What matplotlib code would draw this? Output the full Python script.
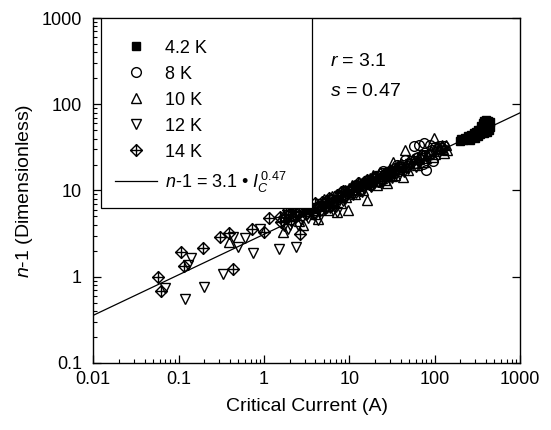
import matplotlib
matplotlib.use("Agg")
import matplotlib.pyplot as plt
import numpy as np
from matplotlib.path import Path
from matplotlib.lines import Line2D
from matplotlib.patches import Rectangle

plt.rcParams['font.family'] = ['Liberation Sans', 'DejaVu Sans']
plt.rcParams['mathtext.fontset'] = 'custom'
plt.rcParams['mathtext.rm'] = 'Liberation Sans'
plt.rcParams['mathtext.it'] = 'Liberation Sans:italic'

# ---------------- data ----------------
I_42 = [195, 205, 215, 225, 235, 245, 255, 265, 275, 285, 295, 305, 315, 325, 335, 345,
        350, 360, 365, 375, 380, 390, 395, 400, 410, 415, 420, 425, 430, 440, 410, 430,
        300, 320, 340, 260, 380, 440]
n_42 = [38, 39.5, 38.5, 41, 40, 42.5, 41, 44, 43, 46, 44, 48, 46, 50, 47, 52,
        56, 49, 60, 54, 64, 58, 51, 66, 62, 55, 60, 64, 57, 62, 48, 50,
        41, 43, 45, 39, 47, 54]

I_8 = [57, 65, 75, 88, 100, 80, 110, 95, 70, 60, 50, 40, 33, 27, 22, 18, 14, 11, 8.5,
       6.5, 5.0, 4.0, 120, 130, 72, 45, 36, 25,
       12, 16, 20, 24, 30, 34, 38, 43, 47, 53, 58, 63, 68, 77, 85, 92, 105, 115]
n_8 = [33, 34, 36, 34, 32, 17.3, 28.5, 22, 26, 23.5, 20.5, 18.5, 16.0, 14.9, 12.4, 13.0,
       11.2, 10.0, 9.0, 7.4, 7.0, 6.2, 31, 33, 20.2, 22.8, 20.0, 17.0,
       11.5, 11.8, 14.0, 15.8, 16.8, 18.2, 17.0, 20.0, 19.2, 22.0, 21.0, 24.5, 23.0, 25.8,
       26.0, 29.5, 30.5, 33.0]

I_10 = [0.39, 1.67, 2.9, 4.3, 7.2, 9.6, 16, 19, 27.7, 10.7, 32.6, 45, 42, 97, 140,
        2.2, 3.6, 5.0, 5.6, 6.3, 8.0, 8.8, 11.5, 13, 14.5, 17.5, 21, 23, 26, 30, 34, 37,
        48, 55, 62, 68, 75, 85, 95, 110, 120, 130,
        2.6, 3.1, 4.0, 4.6, 5.3, 6.6, 7.6, 9.2, 10, 12, 13.8, 15.5, 18.5, 20, 24, 28, 32,
        36, 40, 44, 50, 58, 65, 72, 80, 90, 100, 105, 115, 125, 135]
n_10 = [2.5, 3.3, 4.0, 4.7, 5.6, 5.9, 7.8, 15.1, 12.2, 11.6, 21.4, 29.5, 14.4, 40.6, 29.5,
        5.1, 6.4, 7.9, 6.0, 8.6, 7.2, 10.2, 9.0, 12.5, 10.0, 13.8, 11.5, 16.6, 13.2, 17.8, 15.0, 19.5,
        17.5, 23.0, 19.8, 25.5, 21.5, 27.5, 24.5, 30.0, 34.0, 27.0,
        4.4, 5.8, 5.4, 7.0, 6.6, 7.1, 8.9, 8.4, 10.6, 10.5, 11.5, 12.6, 12.8, 14.8, 14.0, 16.2, 14.8,
        17.6, 21.0, 18.8, 21.5, 20.8, 23.0, 26.0, 23.5, 28.5, 26.5, 33.0, 31.5, 30.0, 33.5]

I_12 = [0.07, 0.14, 0.13, 0.12, 0.2, 0.33, 0.43, 0.5, 0.6, 0.75, 0.9, 1.5, 2.4, 4.3, 6.0,
        1.7, 2.0, 2.3, 2.7, 3.0, 3.3, 3.7, 4.6, 5.5, 6.8, 7.5, 8.5, 9.5, 11, 12.5, 14, 16,
        18, 21, 24, 28, 32, 38, 44, 52, 60, 70, 7.2,
        1.9, 2.5, 3.2, 3.9, 4.4, 5.2, 6.2, 7.0, 8.0, 9.0, 10, 12, 13, 15, 17, 19.5, 23, 26,
        30, 35, 41, 48, 56, 65]
n_12 = [0.74, 1.64, 1.37, 0.55, 0.76, 1.08, 2.9, 2.2, 2.8, 1.9, 3.6, 2.1, 2.2, 4.5, 6.2,
        3.9, 4.0, 4.9, 4.5, 5.6, 4.8, 6.0, 6.9, 6.2, 7.1, 8.6, 7.6, 9.6, 8.8, 10.8, 9.6, 12.3,
        11.0, 13.6, 12.4, 15.9, 14.0, 17.9, 16.5, 20.4, 18.8, 23.5, 5.6,
        3.6, 4.0, 5.3, 5.2, 6.1, 5.9, 7.7, 6.5, 8.7, 8.0, 9.8, 9.3, 11.2, 10.5, 12.8, 12.0, 14.6, 13.5,
        16.3, 15.6, 18.8, 17.8, 21.8, 20.5]

I_14 = [0.058, 0.063, 0.107, 0.117, 0.194, 0.307, 0.39, 0.43, 0.73, 1.0, 1.15, 1.55, 2.65,
        1.6, 1.8, 1.9, 2.1, 2.2, 2.4, 2.6, 2.9, 3.1, 3.4, 3.8, 4.3, 4.8, 5.2, 5.8, 6.5,
        7.2, 8.0, 9.0, 10.5, 12, 13.5, 15, 17, 19, 22, 25, 29, 33,
        1.7, 2.0, 2.3, 2.8, 3.2, 3.6, 4.0, 4.5, 5.5, 6.2, 7.0, 8.5, 9.5, 11, 12.5, 14, 16,
        18, 20, 24, 27, 31]
n_14 = [0.99, 0.68, 1.93, 1.33, 2.15, 2.9, 3.2, 1.23, 3.6, 3.3, 4.8, 4.9, 3.1,
        4.3, 5.2, 5.9, 4.6, 6.8, 5.0, 5.6, 7.0, 5.4, 6.3, 5.5, 6.4, 7.3, 6.5, 8.1, 7.6,
        8.9, 9.5, 8.6, 10.4, 11.3, 10.2, 12.6, 11.8, 13.9, 13.0, 15.2, 14.6, 16.8,
        4.9, 5.4, 5.8, 6.2, 6.8, 5.9, 7.2, 6.0, 7.6, 6.7, 7.5, 9.9, 9.4, 9.6, 12.1, 12.0, 13.2,
        11.5, 14.2, 13.6, 16.0, 15.5]

fit_r = 3.1
fit_s = 0.47

x_ticks = [0.01, 0.1, 1, 10, 100, 1000]
x_ticklabels = ['0.01', '0.1', '1', '10', '100', '1000']
y_ticks = [0.1, 1, 10, 100, 1000]
y_ticklabels = ['0.1', '1', '10', '100', '1000']

# ---------------- figure ----------------
fig = plt.figure(figsize=(5.51, 4.30), dpi=100)
ax = fig.add_axes([0.169, 0.156, 0.775, 0.802])
ax.set_xscale('log')
ax.set_yscale('log')
ax.set_xlim(0.01, 1000)
ax.set_ylim(0.1, 1000)

dp_verts = [(0, 1), (1, 0), (0, -1), (-1, 0), (0, 1), (0, 1), (0, -1), (-1, 0), (1, 0)]
dp_codes = [Path.MOVETO, Path.LINETO, Path.LINETO, Path.LINETO, Path.CLOSEPOLY,
            Path.MOVETO, Path.LINETO, Path.MOVETO, Path.LINETO]
diamond_plus = Path(dp_verts, dp_codes)

mew = 1.0
ax.plot(I_14, n_14, linestyle='none', marker=diamond_plus, ms=8.5, mfc='none', mec='black', mew=mew)
ax.plot(I_12, n_12, linestyle='none', marker='v', ms=7.5, mfc='none', mec='black', mew=mew)
ax.plot(I_10, n_10, linestyle='none', marker='^', ms=7.5, mfc='none', mec='black', mew=mew)
ax.plot(I_8, n_8, linestyle='none', marker='o', ms=7, mfc='none', mec='black', mew=mew)
ax.plot(I_42, n_42, linestyle='none', marker='s', ms=5.5, mfc='black', mec='black', mew=mew)

xf = np.array([0.01, 1000.0])
ax.plot(xf, fit_r * xf ** fit_s, color='black', lw=0.9)

ax.set_xticks(x_ticks)
ax.set_xticklabels(x_ticklabels)
ax.set_yticks(y_ticks)
ax.set_yticklabels(y_ticklabels)
ax.tick_params(which='major', direction='in', length=6, width=0.9, labelsize=13,
               top=False, right=True)
ax.tick_params(axis='x', which='major', pad=6)
ax.tick_params(axis='y', which='major', pad=8)
ax.tick_params(which='minor', direction='in', length=3, width=0.8, top=False, right=False)
for sp in ax.spines.values():
    sp.set_linewidth(1.0)

ax.set_xlabel('Critical Current (A)', fontsize=14, labelpad=7)
ax.set_ylabel(r'$n$-1 (Dimensionless)', fontsize=14, labelpad=5)

ax.text(0.555, 0.875, r'$r$ = 3.1', transform=ax.transAxes, fontsize=14, va='center', ha='left')
ax.text(0.555, 0.786, r'$s$ = 0.47', transform=ax.transAxes, fontsize=14, va='center', ha='left')

# legend box (frame drawn separately)
box = Rectangle((0.0187, 0.449), 0.494, 0.551, transform=ax.transAxes,
                facecolor='white', edgecolor='black', linewidth=0.9, zorder=4.5)
ax.add_patch(box)

handles = [
    Line2D([], [], linestyle='none', marker='s', ms=5.5, mfc='black', mec='black'),
    Line2D([], [], linestyle='none', marker='o', ms=7, mfc='none', mec='black', mew=mew),
    Line2D([], [], linestyle='none', marker='^', ms=7.5, mfc='none', mec='black', mew=mew),
    Line2D([], [], linestyle='none', marker='v', ms=7.5, mfc='none', mec='black', mew=mew),
    Line2D([], [], linestyle='none', marker=diamond_plus, ms=8.5, mfc='none', mec='black', mew=mew),
    Line2D([], [], color='black', lw=0.9),
]
labels = ['4.2 K', '8 K', '10 K', '12 K', '14 K', r'$n$-1 = 3.1 • $I_C^{\,0.47}$']
leg = ax.legend(handles, labels, loc='upper left', bbox_to_anchor=(0.019, 0.977),
                fontsize=13, frameon=False, borderaxespad=0,
                handlelength=2.35, handletextpad=0.45, labelspacing=0.5, borderpad=0.75)
leg.set_zorder(5)

fig.savefig('out.png', dpi=100)
